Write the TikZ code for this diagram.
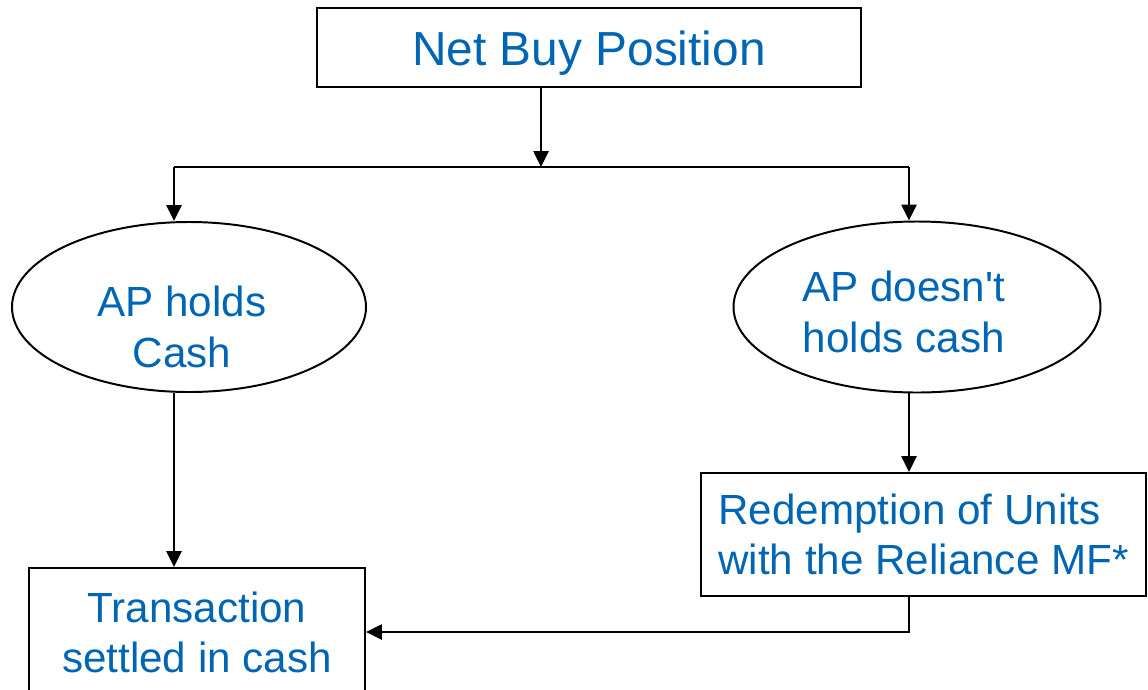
\documentclass[tikz,border=0pt]{standalone}
\usepackage{fontspec}
\setmainfont{Liberation Sans}
\usepackage{tikz}
\usetikzlibrary{shapes.geometric,arrows.meta}
\definecolor{flowblue}{RGB}{0,102,179}
\newcommand{\bodyText}{\fontsize{30}{35.6}\selectfont}
% text of a node, moved left by #1 and down by #2 inside its shape
\newcommand{\movedText}[3]{\kern#1\kern#1\raisebox{-#2}[\height][\depth]{\begin{tabular}{@{}c@{}}#3\end{tabular}}}

\begin{document}
\begin{tikzpicture}[line width=1.4pt,
		every node/.style={text=flowblue, font=\bodyText},
		box/.style={draw, rectangle, inner sep=0pt, align=center},
		oval/.style={draw, ellipse, inner sep=0pt, align=center},
		flow/.style={-{Triangle[length=0.4cm,width=0.38cm]}}]
		\useasboundingbox (0,0) rectangle (28.7,-17.225);
		\clip (0,0) rectangle (28.7,-17.225);
		% top of the tree
		\node[box, minimum width=13.6cm, minimum height=1.975cm,
			font=\fontsize{34}{40}\selectfont] (netbuy) at (14.725,-1.1875) {\movedText{0cm}{0.175cm}{Net Buy Position}};
		\coordinate (split) at (13.525,-4.175);
		\coordinate (lsplit) at (4.35,-4.175);
		\coordinate (rsplit) at (22.725,-4.175);
		% the two cases
		\node[oval, minimum width=8.85cm, minimum height=4.25cm] (holds) at (4.725,-7.675) {\movedText{-0.18cm}{0.625cm}{AP holds\\Cash}};
		\node[oval, minimum width=9.175cm, minimum height=4.275cm] (noholds) at (22.925,-7.675) {\movedText{-0.33cm}{0.25cm}{AP doesn\textquotesingle t\\holds cash}};
		% results
		\node[box, minimum width=11.125cm, minimum height=3.075cm,
			align=left] (redeem) at (23.0875,-13.3625) {Redemption of Units\\with the Reliance MF*};
		\node[box, minimum width=8.4cm, minimum height=3.2cm] (settled) at (4.925,-15.8) {Transaction\\settled in cash};
		% connectors
		\draw[flow] (netbuy.south -| split) -- (split);
		\draw (lsplit) -- (rsplit);
		\draw[flow] (lsplit) -- (lsplit |- holds.north);
		\draw[flow] (rsplit) -- (rsplit |- noholds.north);
		\draw[flow] (holds.south -| lsplit) -- (settled.north -| lsplit);
		\draw[flow] (noholds.south -| rsplit) -- (redeem.north -| rsplit);
		\draw[flow] (redeem.south -| rsplit) -- (rsplit |- settled.east) -- (settled.east);
	\end{tikzpicture}
\end{document}
